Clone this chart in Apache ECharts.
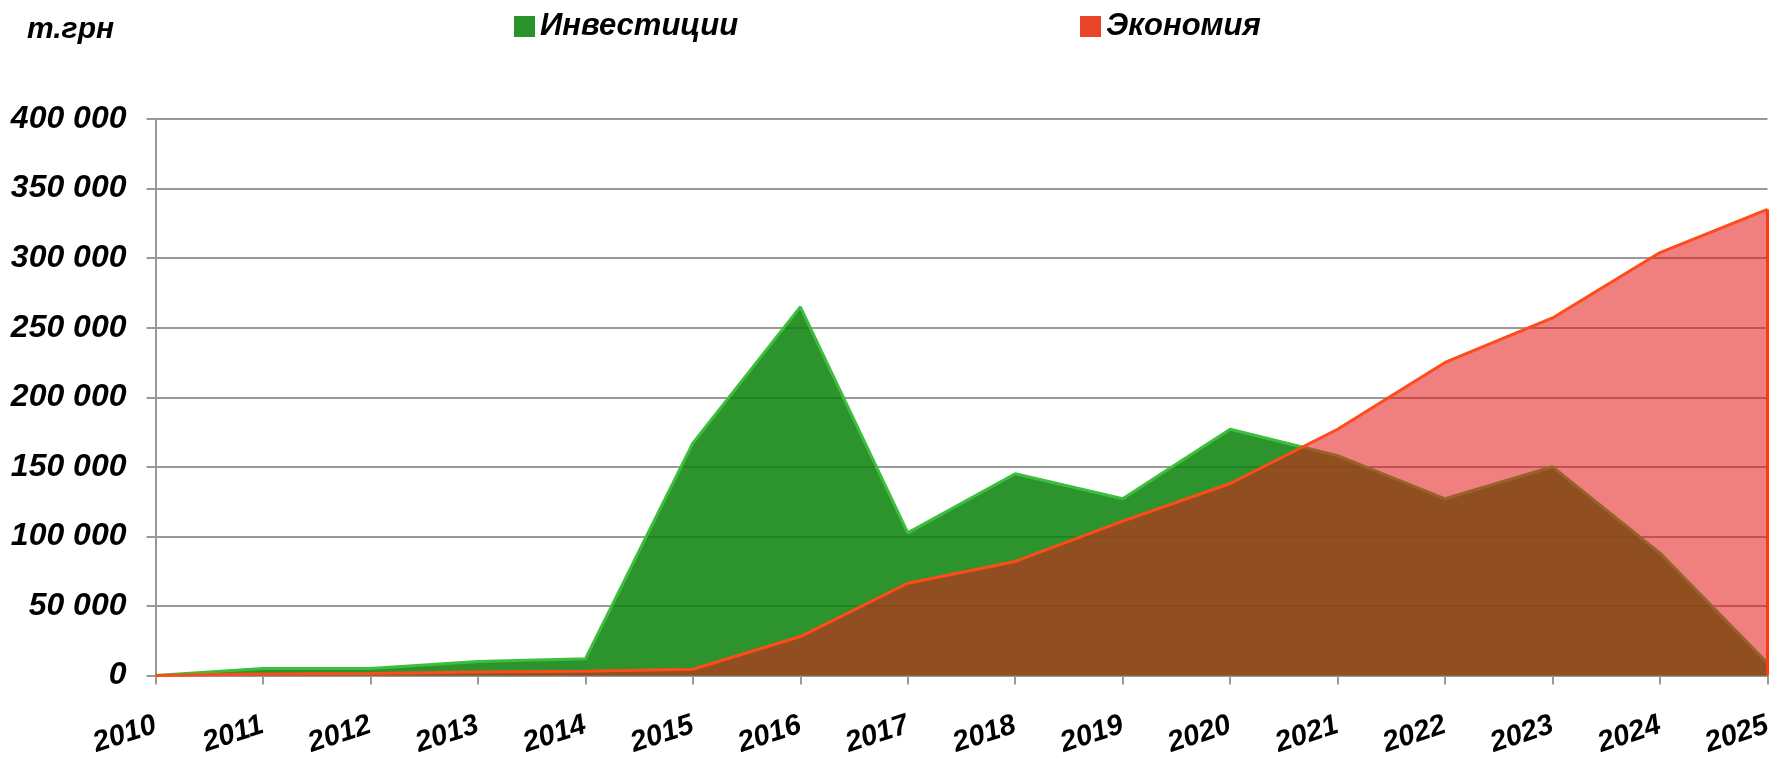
<!DOCTYPE html>
<html>
<head>
<meta charset="utf-8">
<script src="https://cdn.jsdelivr.net/npm/echarts@6/dist/echarts.min.js"></script>
<style>
  html, body { margin: 0; padding: 0; background: #fff; }
  #chart { width: 1780px; height: 760px; }
</style>
</head>
<body>
<div id="chart"></div>
<script>
const years = ['2010', '2011', '2012', '2013', '2014', '2015', '2016', '2017',
  '2018', '2019', '2020', '2021', '2022', '2023', '2024', '2025']
// Инвестиции, т.грн
const invest = [0, 5000, 5000, 10000, 12000, 167000, 265000, 102500,
  145000, 127000, 177000, 158000, 127000, 150000, 88000, 9000]
// Экономия, т.грн
const economy = [0, 1000, 1500, 2500, 3000, 4500, 28000, 66300,
  82000, 111000, 138000, 177000, 225000, 257000, 304000, 335000]
const yTicks = { min: 0, max: 400000, step: 50000 }

const font = "'Liberation Sans', Arial, sans-serif"
const fmt = v => String(v).replace(/\B(?=(\d{3})+(?!\d))/g, ' ')

const chart = echarts.init(document.getElementById('chart'))

const legendText = {
  fontSize: 31,
  fontStyle: 'italic',
  fontWeight: 'bold',
  fontFamily: font,
  color: '#000'
}

const last = years.length - 1

const option = {
  animation: false,
  title: {
    text: 'т.грн',
    left: 22,
    top: 10,
    textStyle: { fontSize: 30, fontStyle: 'italic', fontWeight: 'bold', fontFamily: font, color: '#000' }
  },
  legend: [
    {
      data: ['Инвестиции'],
      left: 509,
      top: 6,
      itemWidth: 21,
      itemHeight: 21,
      icon: 'rect',
      textStyle: legendText
    },
    {
      data: ['Экономия'],
      left: 1075,
      top: 6,
      itemWidth: 21,
      itemHeight: 21,
      icon: 'rect',
      textStyle: legendText
    }
  ],
  grid: {
    left: 155.5,
    right: 12.5,
    top: 119,
    bottom: 84.5
  },
  xAxis: {
    type: 'category',
    data: years,
    boundaryGap: false,
    axisLine: { lineStyle: { color: '#999', width: 2 } },
    axisTick: { show: true, length: 9, lineStyle: { color: '#999', width: 2 } },
    axisLabel: {
      interval: 0,
      rotate: 18,
      margin: 49,
      fontSize: 29,
      fontStyle: 'italic',
      fontWeight: 'bold',
      fontFamily: font,
      color: '#000'
    }
  },
  yAxis: {
    type: 'value',
    min: yTicks.min,
    max: yTicks.max,
    interval: yTicks.step,
    axisLine: { show: true, lineStyle: { color: '#999', width: 2 } },
    axisTick: { show: true, length: 9, lineStyle: { color: '#999', width: 2 } },
    splitLine: { lineStyle: { color: '#999', width: 2 } },
    axisLabel: {
      margin: 29,
      formatter: fmt,
      fontSize: 32,
      fontStyle: 'italic',
      fontWeight: 'bold',
      fontFamily: font,
      color: '#000'
    }
  },
  series: [
    {
      name: 'Инвестиции',
      type: 'line',
      data: invest,
      symbol: 'none',
      itemStyle: { color: '#2a922a', borderColor: '#1f7a1f' },
      lineStyle: { color: '#3cbf3c', width: 3 },
      areaStyle: { color: 'rgba(10,130,10,0.86)', opacity: 1 },
      z: 2
    },
    {
      name: 'Экономия',
      type: 'line',
      data: economy,
      symbol: 'none',
      itemStyle: { color: '#e8442a', borderColor: '#c0301a' },
      lineStyle: { color: '#ff4a1a', width: 3 },
      areaStyle: { color: 'rgba(227,24,24,0.55)', opacity: 1 },
      // red edge closing the area at the last year
      markLine: {
        silent: true,
        symbol: 'none',
        label: { show: false },
        lineStyle: { color: '#ff3a10', width: 3, type: 'solid' },
        data: [[
          { coord: [years[last], 0] },
          { coord: [years[last], economy[last]] }
        ]]
      },
      z: 3
    }
  ]
}

chart.setOption(option)
</script>
</body>
</html>
